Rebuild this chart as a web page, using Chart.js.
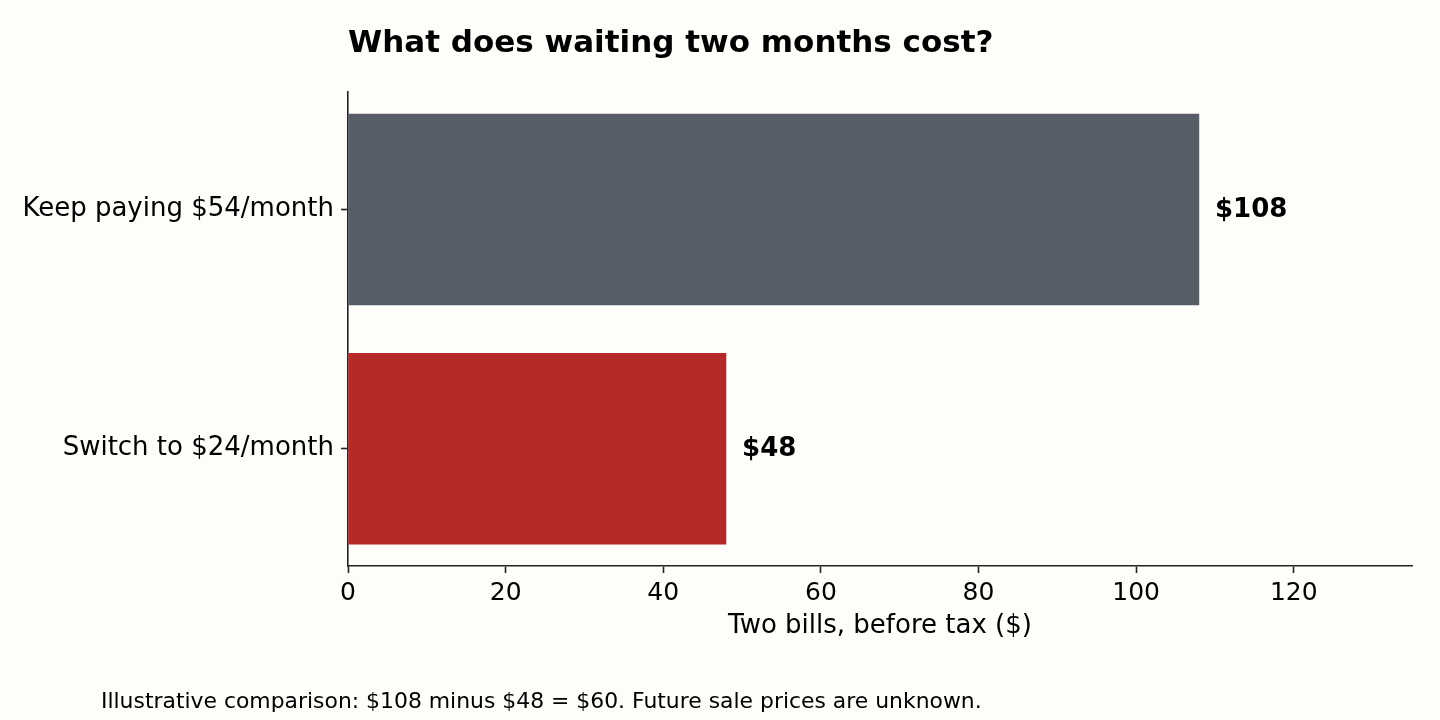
<!DOCTYPE html>
<html>
<head>
<meta charset="utf-8">
<script src="https://cdn.jsdelivr.net/npm/chart.js@4"></script>
<style>
  html, body { margin: 0; padding: 0; background: #fefdfa; }
  #wrap { width: 1440px; height: 720px; }
</style>
</head>
<body>
<div id="wrap"><canvas id="chart"></canvas></div>
<script>
// data
const categories = ["Keep paying $54/month", "Switch to $24/month"];
const twoBillCost = [108, 48];
const barColors = ["#565d67", "#b52a27"];
const valueLabels = ["$108", "$48"];
const xTicks = [0, 20, 40, 60, 80, 100, 120];

const titleText = "What does waiting two months cost?";
const xTitle = "Two bills, before tax ($)";
const footNote = "Illustrative comparison: $108 minus $48 = $60. Future sale prices are unknown.";

const FONT = "'DejaVu Sans', sans-serif";

// background + value labels + footnote
const extras = {
    id: "extras",
    beforeDraw(chart) {
        const ctx = chart.ctx;
        ctx.save();
        ctx.fillStyle = "#fefdfa";
        ctx.fillRect(0, 0, chart.width, chart.height);
        ctx.restore();
    },
    afterDraw(chart) {
        const ctx = chart.ctx;
        const xs = chart.scales.x;
        const bars = chart.getDatasetMeta(0).data;
        ctx.save();
        ctx.fillStyle = "#000";
        ctx.font = "bold 26px " + FONT;
        ctx.textAlign = "left";
        ctx.textBaseline = "middle";
        bars.forEach((bar, i) => {
            ctx.fillText(valueLabels[i], xs.getPixelForValue(twoBillCost[i] + 2), bar.y + 1);
        });
        ctx.font = "21.9px " + FONT;
        ctx.fillText(footNote, 101, 702);
        ctx.restore();
    }
};

new Chart(document.getElementById("chart"), {
    type: "bar",
    data: {
        datasets: [{
            data: twoBillCost.map((v, i) => ({ x: v, y: i })),
            backgroundColor: barColors,
            categoryPercentage: 1,
            barPercentage: 0.8
        }]
    },
    options: {
        indexAxis: "y",
        responsive: true,
        maintainAspectRatio: false,
        animation: false,
        layout: { padding: { top: 25, right: 28, bottom: 78, left: 0 } },
        plugins: {
            legend: { display: false },
            tooltip: { enabled: false },
            title: {
                display: true,
                text: titleText,
                align: "start",
                fullSize: false,
                color: "#000",
                font: { family: FONT, size: 31, weight: "bold" },
                padding: { top: 0, bottom: 30 }
            }
        },
        scales: {
            x: {
                min: 0,
                max: 135,
                afterBuildTicks: (s) => { s.ticks = xTicks.map(v => ({ value: v })); },
                afterFit: (s) => { s.height = 76; },
                ticks: {
                    color: "#000",
                    font: { family: FONT, size: 25 },
                    padding: 5
                },
                grid: { drawOnChartArea: false, drawTicks: true, tickLength: 7, tickWidth: 1.6, color: "#222" },
                border: { color: "#222", width: 1.6 },
                title: {
                    display: true,
                    text: xTitle,
                    color: "#000",
                    font: { family: FONT, size: 26 },
                    padding: { top: 4, bottom: 0 }
                }
            },
            y: {
                type: "linear",
                reverse: true,
                min: -0.49,
                max: 1.49,
                offset: false,
                afterBuildTicks: (s) => { s.ticks = categories.map((c, i) => ({ value: i })); },
                afterFit: (s) => { s.width = 348; },
                ticks: {
                    color: "#000",
                    font: { family: FONT, size: 26 },
                    padding: 7,
                    callback: (v) => categories[v]
                },
                grid: { offset: false, drawOnChartArea: false, drawTicks: true, tickLength: 7, tickWidth: 1.6, color: "#222" },
                border: { color: "#222", width: 1.6 }
            }
        }
    },
    plugins: [extras]
});
</script>
</body>
</html>
